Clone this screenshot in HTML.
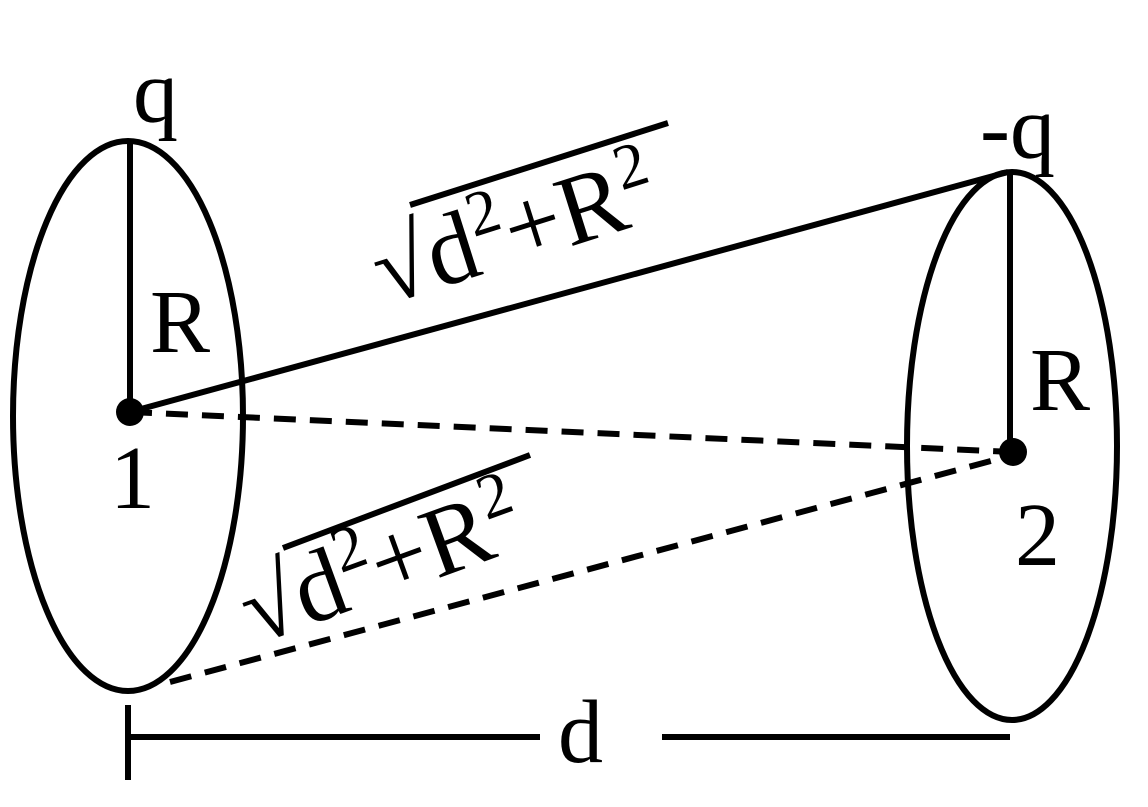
<!DOCTYPE html>
<html><head><style>
html,body{margin:0;padding:0;background:#fff;}
svg{display:block;}
text{font-family:"Liberation Serif",serif;fill:#000;}
</style></head><body>
<svg width="1148" height="807" viewBox="0 0 1148 807" xmlns="http://www.w3.org/2000/svg">
<g fill="none" stroke="#000" stroke-width="6">
<ellipse cx="128" cy="416" rx="115" ry="275"/>
<ellipse cx="1012" cy="446" rx="105" ry="274"/>
<line x1="130" y1="142" x2="130" y2="412"/>
<line x1="1010" y1="172" x2="1010" y2="452"/>
<line x1="130" y1="412" x2="1008" y2="172"/>
<line x1="130" y1="412" x2="1013" y2="452" stroke-dasharray="22,14"/>
<line x1="170" y1="682" x2="1013" y2="455" stroke-dasharray="22,14"/>
<line x1="128" y1="705" x2="128" y2="780"/>
<line x1="130" y1="737" x2="540" y2="737"/>
<line x1="662" y1="737" x2="1010" y2="737"/>
<line x1="410" y1="205" x2="668" y2="123"/>
<line x1="283" y1="548" x2="530" y2="455"/>
</g>
<circle cx="130" cy="412" r="14" fill="#000"/>
<circle cx="1013" cy="452" r="14" fill="#000"/>
<text x="133" y="122" font-size="90">q</text>
<text x="980" y="158" font-size="90">-q</text>
<text x="150" y="352" font-size="90">R</text>
<text x="1030" y="410" font-size="90">R</text>
<text x="110" y="508" font-size="90">1</text>
<text x="1015" y="565" font-size="90">2</text>
<text x="558" y="762" font-size="90">d</text>
<g transform="translate(385,305) rotate(-17.5)">
<text x="0" y="0" font-size="100">√d<tspan font-size="64" dy="-38">2</tspan><tspan dy="38">+R</tspan><tspan font-size="64" dy="-38">2</tspan></text>
</g>
<g transform="translate(255,645) rotate(-20)">
<text x="0" y="0" font-size="100">√d<tspan font-size="64" dy="-38">2</tspan><tspan dy="38">+R</tspan><tspan font-size="64" dy="-38">2</tspan></text>
</g>
</svg>
</body></html>
